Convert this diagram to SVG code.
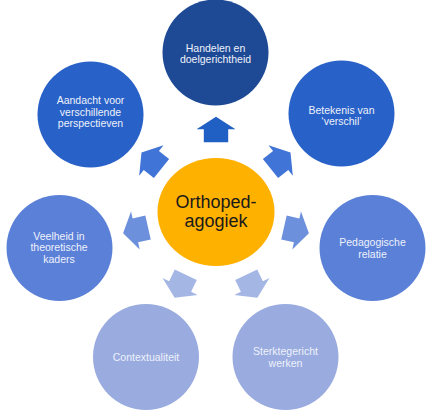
<svg xmlns="http://www.w3.org/2000/svg" width="436" height="419" viewBox="0 0 436 419">
  <style>
    .lbl { font-family: "Liberation Sans", Arial, sans-serif; font-size: 10.5px; fill: #eef2fb; text-anchor: middle; }
    .ctr { font-family: "Liberation Sans", Arial, sans-serif; font-size: 18px; fill: #1a1a1a; text-anchor: middle; }
    .c1 { fill: #1E4A95; }
    .c2 { fill: #2861C7; }
    .c3 { fill: #5B80D8; }
    .c4 { fill: #99ABDF; }
    .a1 { fill: #2060C4; }
    .a2 { fill: #4074D6; }
    .a3 { fill: #6C90DC; }
    .a4 { fill: #A4B6E3; }
  </style>
  <defs>
    <path id="arr" d="M0,-95.3 L19.5,-82.7 L12.2,-82.7 L12.2,-69.7 L-12.2,-69.7 L-12.2,-82.7 L-19.5,-82.7 Z"/>
  </defs>
  <rect width="436" height="419" fill="#ffffff"/>

  <g id="connectors" transform="translate(216,212)">
    <use href="#arr" class="a1"/>
    <use href="#arr" class="a2" transform="rotate(51.43)"/>
    <use href="#arr" class="a3" transform="rotate(102.86)"/>
    <use href="#arr" class="a4" transform="rotate(154.29)"/>
    <use href="#arr" class="a4" transform="rotate(-154.29)"/>
    <use href="#arr" class="a3" transform="rotate(-102.86)"/>
    <use href="#arr" class="a2" transform="rotate(-51.43)"/>
  </g>

  <g id="node-center">
    <ellipse cx="216" cy="212" rx="58.5" ry="54" fill="#FFB100"/>
    <text class="ctr" x="216" y="208">Orthoped-</text>
    <text class="ctr" x="216" y="227">agogiek</text>
  </g>

  <g id="node-handelen">
    <circle class="c1" cx="215.5" cy="52.5" r="53"/>
    <text class="lbl" x="215.5" y="51.5">Handelen en</text>
    <text class="lbl" x="215.5" y="63">doelgerichtheid</text>
  </g>

  <g id="node-betekenis">
    <circle class="c2" cx="341.5" cy="113.5" r="53"/>
    <text class="lbl" x="341.5" y="113.5">Betekenis van</text>
    <text class="lbl" x="341.5" y="125">‘verschil’</text>
  </g>

  <g id="node-pedagogische">
    <circle class="c3" cx="372.5" cy="248" r="53"/>
    <text class="lbl" x="372.5" y="246">Pedagogische</text>
    <text class="lbl" x="372.5" y="257.5">relatie</text>
  </g>

  <g id="node-sterktegericht">
    <circle class="c4" cx="285.5" cy="357" r="53"/>
    <text class="lbl" x="285.5" y="355">Sterktegericht</text>
    <text class="lbl" x="285.5" y="366.5">werken</text>
  </g>

  <g id="node-contextualiteit">
    <circle class="c4" cx="146" cy="357" r="53"/>
    <text class="lbl" x="146" y="360.5">Contextualiteit</text>
  </g>

  <g id="node-veelheid">
    <circle class="c3" cx="59.5" cy="248" r="53"/>
    <text class="lbl" x="59" y="239.5">Veelheid in</text>
    <text class="lbl" x="59" y="251">theoretische</text>
    <text class="lbl" x="59" y="262.5">kaders</text>
  </g>

  <g id="node-aandacht">
    <circle class="c2" cx="90.5" cy="114.5" r="53"/>
    <text class="lbl" x="90.5" y="104">Aandacht voor</text>
    <text class="lbl" x="90.5" y="115.5">verschillende</text>
    <text class="lbl" x="90.5" y="127">perspectieven</text>
  </g>
</svg>
